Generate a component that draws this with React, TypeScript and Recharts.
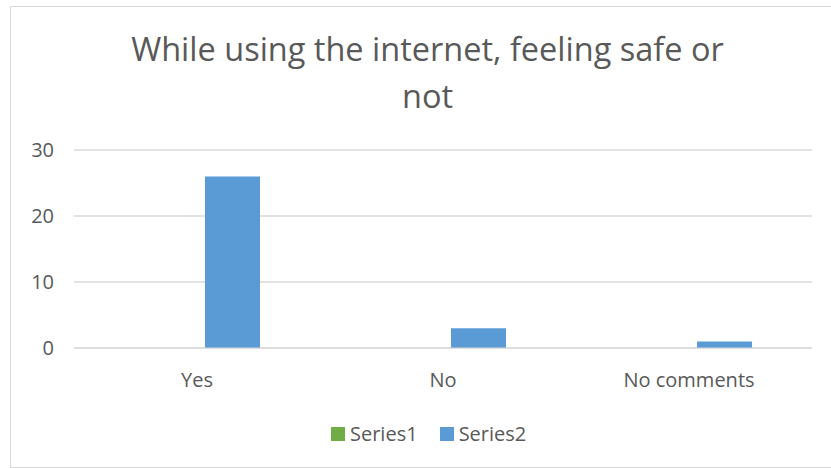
import React from "react";
import { BarChart, Bar, XAxis, YAxis, CartesianGrid } from "recharts";

const categories = ["Yes", "No", "No comments"];
const series1 = [0, 0, 0];
const series2 = [26, 3, 1];
const yTicks = [0, 10, 20, 30];
const titleLines = ["While using the internet, feeling safe or", "not"];
const seriesNames = ["Series1", "Series2"];
const seriesColors = ["#70ad47", "#5b9bd5"];

const data = categories.map((name, i) => ({
  name,
  Series1: series1[i],
  Series2: series2[i],
}));

const FONT = "'Open Sans', sans-serif";
const TEXT = "#595959";

export default function App() {
  return (
    <div
      style={{
        position: "absolute",
        left: 0,
        top: 0,
        width: 831,
        height: 468,
        background: "#fff",
        fontFamily: FONT,
        overflow: "hidden",
      }}
    >
      {/* chart frame */}
      <div
        style={{
          position: "absolute",
          left: 10,
          top: 6,
          width: 830,
          height: 460,
          border: "1px solid #d9d9d9",
        }}
      />
      <div
        style={{
          position: "absolute",
          left: 0,
          top: 25,
          width: 855,
          textAlign: "center",
          color: TEXT,
          fontSize: 32.5,
          lineHeight: "47px",
        }}
      >
        {titleLines.map((l) => (
          <div key={l}>{l}</div>
        ))}
      </div>
      <div style={{ position: "absolute", left: 0, top: 0 }}>
        <BarChart
          width={831}
          height={468}
          data={data}
          margin={{ top: 150, right: 19, bottom: 80, left: 0 }}
          barGap={15}
          barSize={55}
        >
          <CartesianGrid vertical={false} stroke="#d9d9d9" strokeWidth={1.5} />
          <XAxis
            dataKey="name"
            axisLine={{ stroke: "#d9d9d9" }}
            tickLine={false}
            tick={{ fill: TEXT, fontSize: 20, fontFamily: FONT, dy: 17 }}
            height={40}
          />
          <YAxis
            domain={[0, 30]}
            ticks={yTicks}
            axisLine={false}
            tickLine={false}
            width={74}
            tick={{ fill: TEXT, fontSize: 20, fontFamily: FONT, dx: -12 }}
          />
          <Bar dataKey="Series1" fill={seriesColors[0]} isAnimationActive={false} />
          <Bar dataKey="Series2" fill={seriesColors[1]} isAnimationActive={false} />
        </BarChart>
      </div>
      {/* legend */}
      <div
        style={{
          position: "absolute",
          left: 331,
          top: 420,
          display: "flex",
          alignItems: "center",
          height: 27,
          color: TEXT,
          fontSize: 20,
        }}
      >
        {seriesNames.map((n, i) => (
          <div
            key={n}
            style={{ display: "flex", alignItems: "center", marginRight: 22 }}
          >
            <span
              style={{
                width: 14,
                height: 14,
                background: seriesColors[i],
                display: "inline-block",
                marginRight: 5,
              }}
            />
            <span>{n}</span>
          </div>
        ))}
      </div>
    </div>
  );
}
